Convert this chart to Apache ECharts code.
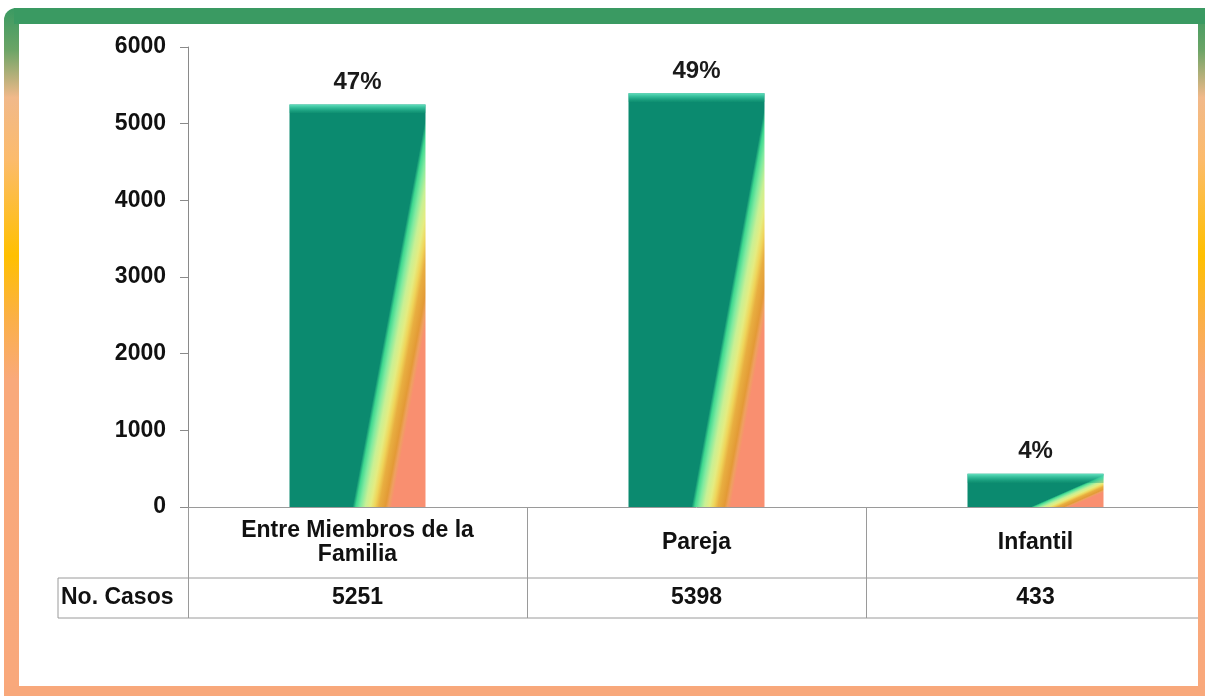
<!DOCTYPE html>
<html>
<head>
<meta charset="utf-8">
<script src="https://cdn.jsdelivr.net/npm/echarts@6/dist/echarts.min.js"></script>
<style>
html, body { margin: 0; padding: 0; background: #fff; }
#chart { width: 1205px; height: 696px; }
</style>
</head>
<body>
<div id="chart"></div>
<script>
// datos
var categorias = ["Entre Miembros de la\nFamilia", "Pareja", "Infantil"];
var casos = [5251, 5398, 433];
var porcentajes = ["47%", "49%", "4%"];
var filaTitulo = "No. Casos";
var yMin = 0, yMax = 6000, yStep = 1000;

// layout
var W = 1205, H = 696;
var GRID_LEFT = 188, GRID_TOP = 47, GRID_BOTTOM = 189, GRID_RIGHT = 0;
var PLOT_H = H - GRID_TOP - GRID_BOTTOM;
var BAR_W = 136;
var FONT = "'Liberation Sans', Arial, sans-serif";

var bandStops = [
  { offset: 0, color: "#0b8a6f" },
  { offset: 0.655, color: "#0b8a6f" },
  { offset: 0.67, color: "#3fd890" },
  { offset: 0.69, color: "#7eeaa0" },
  { offset: 0.715, color: "#c8f095" },
  { offset: 0.74, color: "#e5ec80" },
  { offset: 0.76, color: "#efd55a" },
  { offset: 0.78, color: "#e8ae40" },
  { offset: 0.81, color: "#e39a36" },
  { offset: 0.825, color: "#efa060" },
  { offset: 0.84, color: "#f98f70" },
  { offset: 1, color: "#f98f70" }
];

// gradiente diagonal ligado a la forma: t = (A*x + y) / (A + 1) en coordenadas relativas
var A = 1.8;
function diagFill(w, h) {
  var d = A * A * h * h + w * w;
  return new echarts.graphic.LinearGradient(0, 0, A * (A + 1) * h * h / d, (A + 1) * w * w / d, bandStops);
}

function bevelFill(h) {
  var b = Math.min(9 / h, 0.5);
  return new echarts.graphic.LinearGradient(0, 0, 0, 1, [
    { offset: 0, color: "rgba(110,235,200,0.9)" },
    { offset: b * 0.5, color: "rgba(60,205,165,0.6)" },
    { offset: b, color: "rgba(20,150,115,0.35)" },
    { offset: b, color: "rgba(0,0,0,0)" },
    { offset: 1, color: "rgba(0,0,0,0)" }
  ]);
}

var barData = casos.map(function (v) {
  var h = v / yMax * PLOT_H;
  return { value: v, itemStyle: { color: diagFill(BAR_W, h) } };
});
var bevelData = casos.map(function (v) {
  var h = v / yMax * PLOT_H;
  return { value: v, itemStyle: { color: bevelFill(h) } };
});

var borderGrad = function () {
  return new echarts.graphic.LinearGradient(0, 0, 0, 1, [
    { offset: 0, color: "#3a9a62" },
    { offset: 0.06, color: "#6aa466" },
    { offset: 0.13, color: "#f1b98a" },
    { offset: 0.22, color: "#fcbb6c" },
    { offset: 0.36, color: "#ffc000" },
    { offset: 0.45, color: "#fbb046" },
    { offset: 0.54, color: "#f9a97b" },
    { offset: 1, color: "#f9a87b" }
  ]);
};

var lineStyle = { stroke: "#9a9a9a", lineWidth: 1 };
var tableTop = H - GRID_BOTTOM + 71;
var tableBottom = H - GRID_BOTTOM + 111;

var myChart = echarts.init(document.getElementById("chart"));
var option = {
  animation: false,
  backgroundColor: "#ffffff",
  grid: { left: GRID_LEFT, top: GRID_TOP, right: GRID_RIGHT, bottom: GRID_BOTTOM, containLabel: false },
  xAxis: [
    {
      type: "category",
      data: categorias,
      position: "bottom",
      axisLine: { lineStyle: { color: "#9a9a9a", width: 1 } },
      axisTick: { show: true, interval: 0, length: 111, lineStyle: { color: "#9a9a9a" } },
      axisLabel: {
        interval: 0, margin: 36, verticalAlign: "middle", lineHeight: 24,
        fontSize: 23, fontWeight: "bold", color: "#111", fontFamily: FONT
      }
    },
    {
      type: "category",
      data: casos.map(String),
      position: "bottom",
      offset: 0,
      axisLine: { show: false },
      axisTick: { show: false },
      axisLabel: {
        interval: 0, margin: 91, verticalAlign: "middle",
        fontSize: 23, fontWeight: "bold", color: "#111", fontFamily: FONT
      }
    }
  ],
  yAxis: {
    type: "value",
    min: yMin,
    max: yMax,
    interval: yStep,
    axisLine: { show: true, lineStyle: { color: "#8a8a8a", width: 1 } },
    axisTick: { show: true, length: 8, lineStyle: { color: "#8a8a8a" } },
    splitLine: { show: false },
    axisLabel: {
      margin: 22, fontSize: 23, fontWeight: "bold", color: "#111", fontFamily: FONT,
      formatter: function (v) { return String(v); }
    }
  },
  series: [
    {
      type: "bar",
      data: barData,
      barWidth: BAR_W,
      xAxisIndex: 0,
      label: {
        show: true,
        position: "top",
        distance: 10,
        formatter: function (p) { return porcentajes[p.dataIndex]; },
        fontSize: 24, fontWeight: "bold", color: "#1a1a1a", fontFamily: FONT
      }
    },
    {
      type: "bar",
      data: bevelData,
      barWidth: BAR_W,
      barGap: "-100%",
      xAxisIndex: 0,
      silent: true,
      z: 3
    }
  ],
  graphic: [
    // tabla de datos
    { type: "line", z: 50, shape: { x1: 58, y1: tableTop, x2: 1198, y2: tableTop }, style: lineStyle },
    { type: "line", z: 50, shape: { x1: 58, y1: tableBottom, x2: 1198, y2: tableBottom }, style: lineStyle },
    { type: "line", z: 50, shape: { x1: 58, y1: tableTop, x2: 58, y2: tableBottom }, style: lineStyle },
    {
      type: "text", z: 50, x: 61, y: (tableTop + tableBottom) / 2,
      style: { text: filaTitulo, fontSize: 23, fontWeight: "bold", fill: "#111", fontFamily: FONT, verticalAlign: "middle", align: "left" }
    },
    // marco
    { type: "rect", z: 100, shape: { x: 4, y: 8, width: 15, height: H - 8, r: [12, 0, 0, 0] }, style: { fill: borderGrad() } },
    { type: "rect", z: 100, shape: { x: 1198, y: 8, width: 7, height: H - 8 }, style: { fill: borderGrad() } },
    { type: "rect", z: 101, shape: { x: 14, y: 8, width: W - 14, height: 16 }, style: { fill: "#3a9a62" } },
    { type: "rect", z: 101, shape: { x: 4, y: 686, width: W - 4, height: 10 }, style: { fill: "#f8a87b" } }
  ]
};
myChart.setOption(option);
</script>
</body>
</html>
